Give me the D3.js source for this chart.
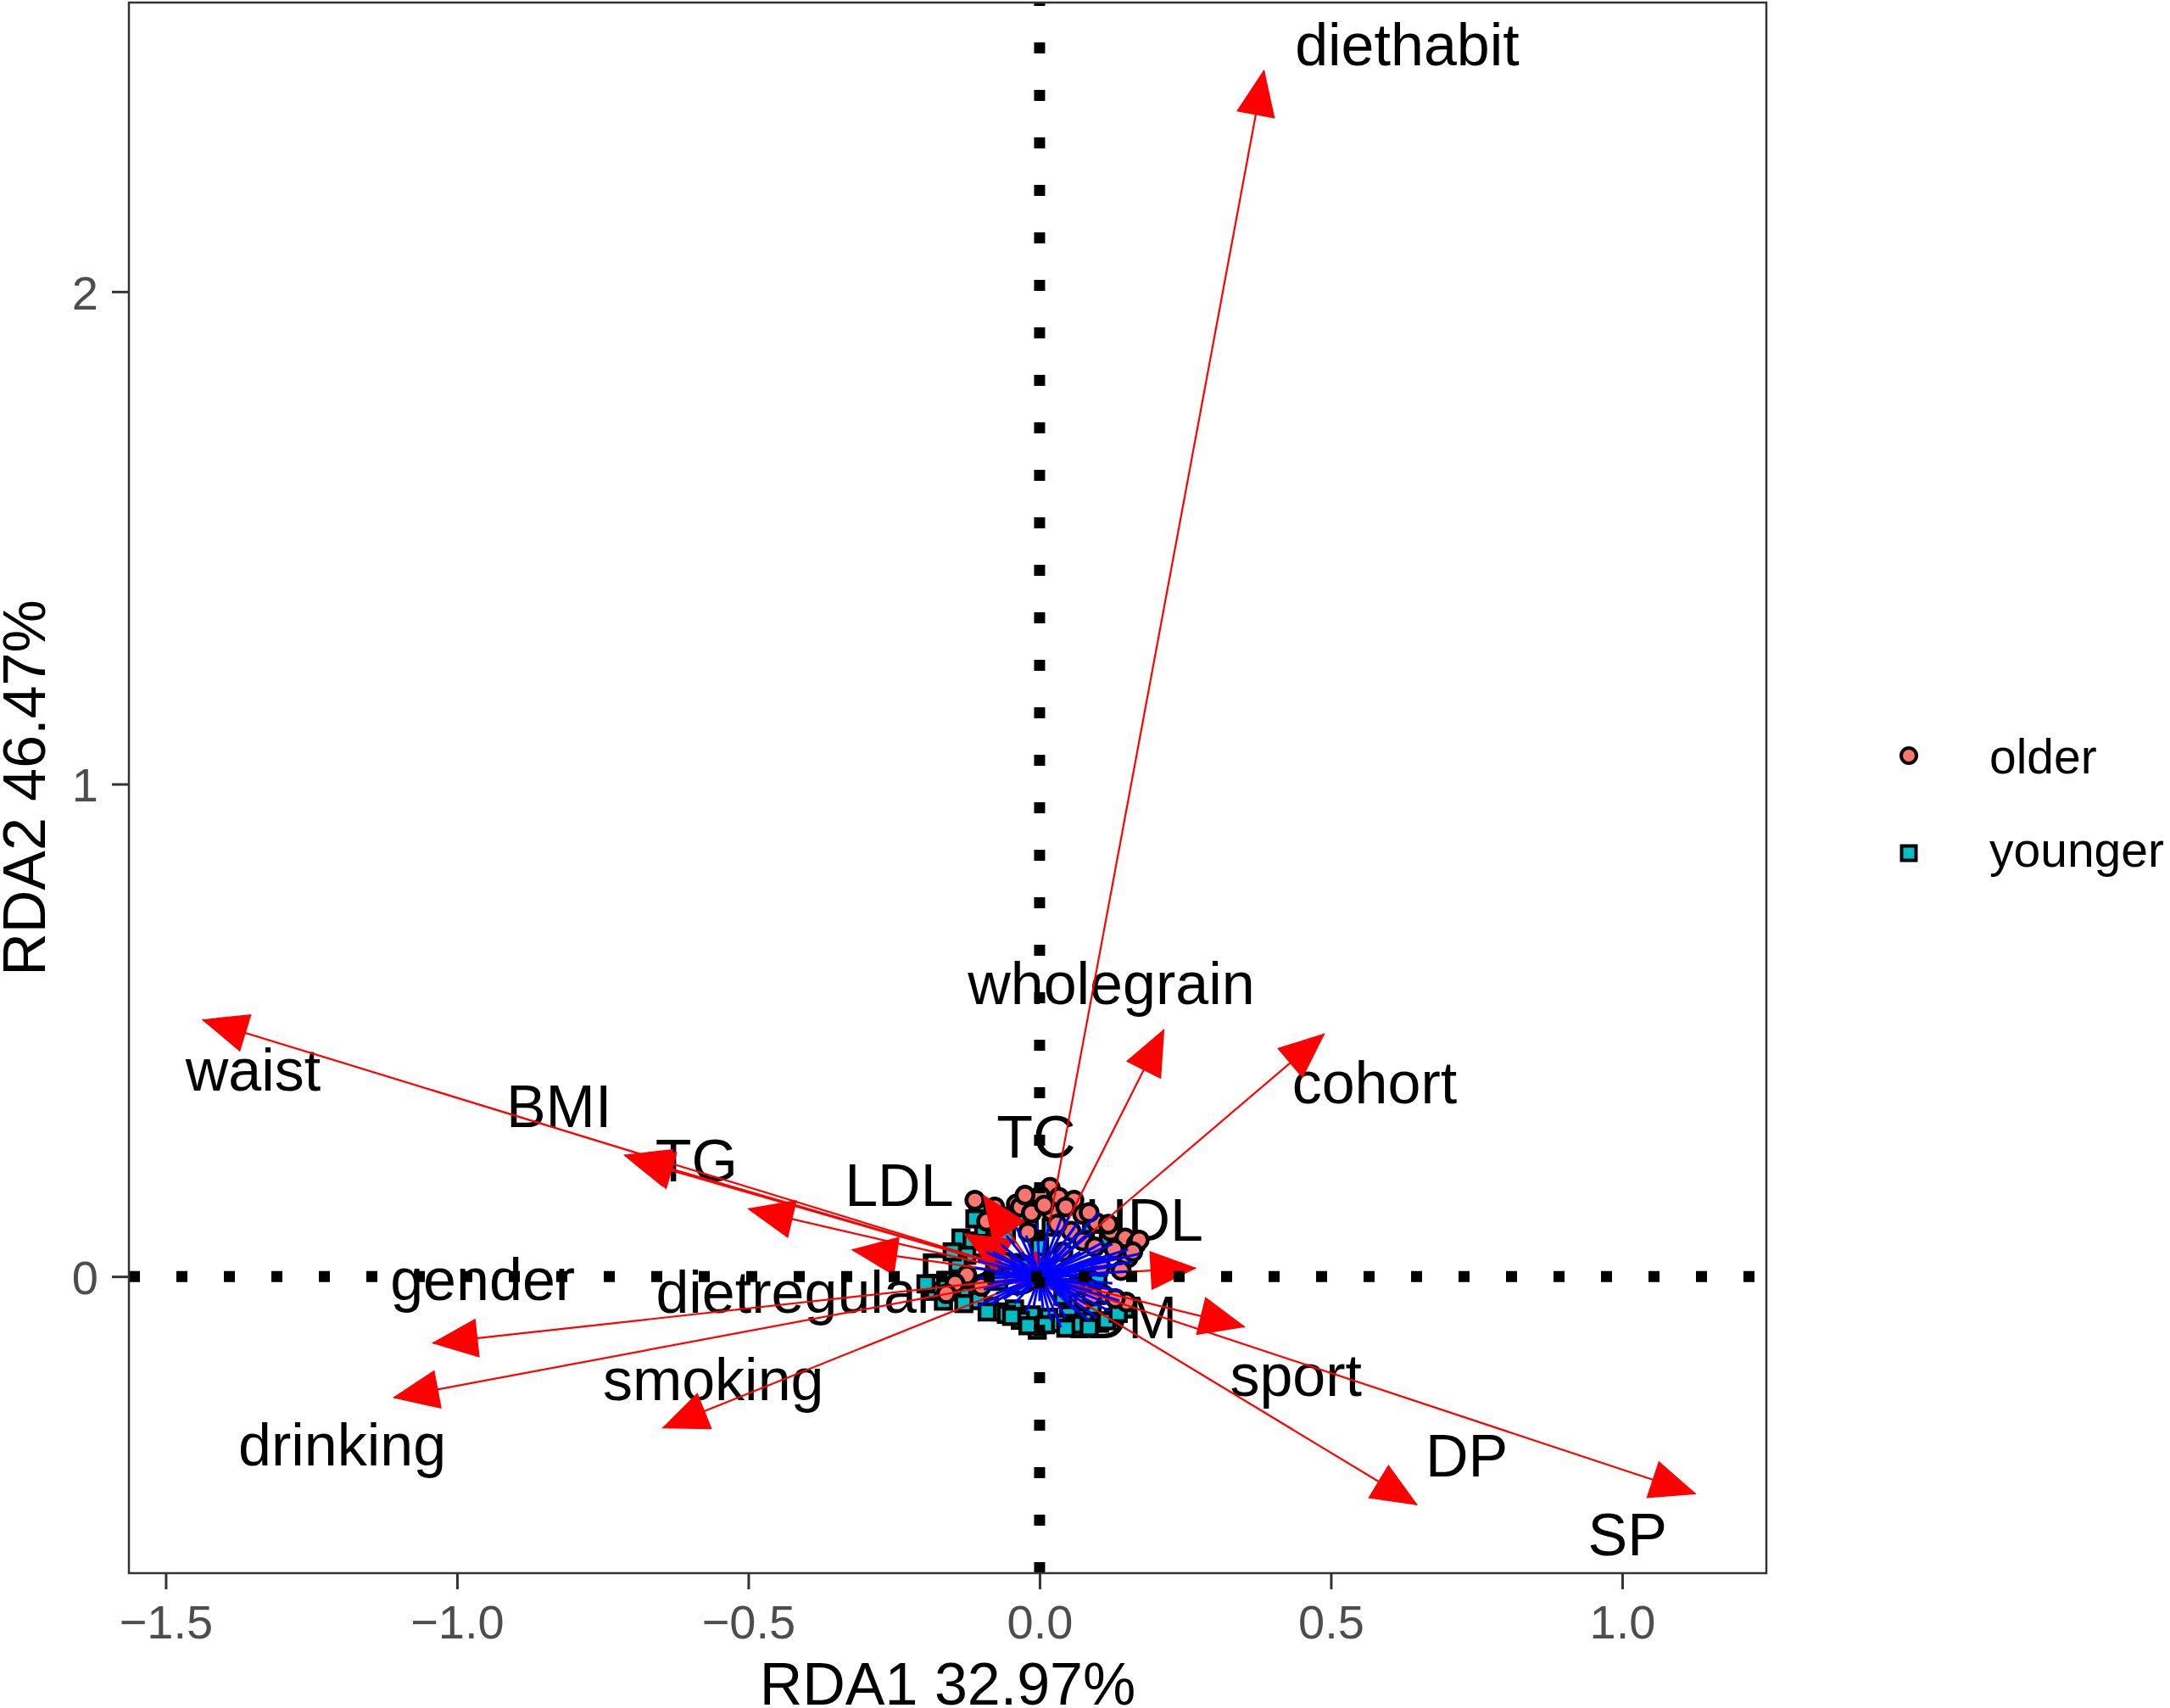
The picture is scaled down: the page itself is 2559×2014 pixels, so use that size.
<!DOCTYPE html>
<html>
<head>
<meta charset="utf-8">
<script src="https://cdn.jsdelivr.net/npm/d3@7/dist/d3.min.js"></script>
<style>
  html, body { margin: 0; padding: 0; background: #fff; }
  svg { display: block; }
  text { font-family: "Liberation Sans", Arial, sans-serif; }
</style>
</head>
<body>
<svg id="chart" width="2559" height="2014"></svg>
<script>
// ---- Data ----
const xTicks = [-1.5, -1.0, -0.5, 0.0, 0.5, 1.0];
const yTicks = [0, 1, 2];
const xTitle = "RDA1 32.97%";
const yTitle = "RDA2 46.47%";
const groups = ["older", "younger"];

// environmental variable arrows (RDA1, RDA2)
const envNames = ["diethabit","wholegrain","cohort","waist","BMI","TG","TC","LDL","HDL","FPG","gender","dietregular","smoking","drinking","DM","sport","DP","SP"];
const envX = [0.385, 0.213, 0.488, -1.436, -0.712, -0.705, -0.096, -0.499, 0.267, -0.128, -1.041, -0.321, -0.646, -1.108, 0.040, 0.351, 0.647, 1.125];
const envY = [2.448, 0.500, 0.492, 0.521, 0.246, 0.240, 0.164, 0.137, 0.017, 0.086, -0.135, 0.054, -0.307, -0.246, -0.030, -0.102, -0.463, -0.441];
// label anchor (centre x, baseline y) in data units
const labX = [0.631, 0.123, 0.575, -1.350, -0.825, -0.589, -0.006, -0.241, 0.179, -0.104, -0.956, -0.418, -0.560, -1.197, 0.157, 0.440, 0.733, 1.009];
const labY = [2.460, 0.553, 0.351, 0.378, 0.303, 0.193, 0.241, 0.144, 0.072, -0.038, -0.048, -0.074, -0.252, -0.384, -0.126, -0.243, -0.406, -0.566];

// site scores: older
const olderX = [-0.111,-0.091,-0.040,-0.009,0.018,0.033,0.059,0.074,0.020,0.098,0.122,0.147,0.166,0.149,0.054,0.074,-0.125,-0.145,0.149,0.110,0.088,-0.033,-0.057,0.001,0.045,0.118,0.030,-0.014,-0.077,0.171,0.152,0.130,0.095,0.040,-0.020,0.010,-0.060,0.060,0.128,0.085,-0.100,-0.160,0.075,0.105,0.008,-0.025,0.140,0.160,0.090];
const olderY = [0.155,0.112,0.147,0.155,0.181,0.161,0.155,0.126,0.132,0.109,0.092,0.078,0.066,0.040,0.092,0.072,0.003,-0.014,-0.052,-0.037,-0.026,0.141,0.121,0.164,0.141,0.106,0.106,0.129,0.141,0.074,0.038,-0.045,0.060,0.050,0.090,0.020,0.030,-0.020,0.055,0.130,-0.020,-0.035,-0.050,0.020,0.145,0.165,0.012,0.050,-0.040];
// site scores: younger
const youngerX = [-0.106,-0.135,-0.116,-0.096,-0.077,-0.057,-0.018,-0.038,-0.086,-0.067,-0.043,-0.014,0.016,0.050,0.079,0.103,0.127,-0.145,-0.125,-0.106,0.089,0.118,-0.086,-0.125,-0.140,0.147,0.060,0.030,-0.033,-0.057,0.069,-0.048,-0.004,0.064,-0.111,-0.130,-0.180,-0.195,-0.165,-0.150,0.000,0.040,-0.030,0.100,0.020,-0.070,0.090,0.045,-0.020,0.010,0.085,0.115,-0.090,-0.160,0.135];
const youngerY = [0.129,0.078,0.072,0.098,0.106,0.086,0.118,0.124,-0.060,-0.072,-0.066,-0.078,-0.083,-0.078,-0.080,-0.095,-0.083,-0.031,-0.037,-0.049,0.106,0.072,0.060,0.043,0.026,-0.066,-0.095,-0.095,-0.089,-0.077,-0.106,-0.081,-0.109,-0.098,0.117,-0.055,-0.030,-0.015,-0.050,0.050,0.060,-0.040,0.020,0.000,0.100,-0.010,-0.060,-0.105,-0.100,-0.098,-0.104,-0.090,-0.072,-0.008,-0.075];

// response (species) vectors, drawn as blue segments from the origin
const spX = [0.037,0.050,0.067,0.101,0.016,-0.004,-0.023,-0.057,-0.067,-0.091,-0.106,-0.111,-0.106,-0.096,-0.106,-0.082,-0.062,-0.043,-0.023,0.006,0.037,0.045,0.064,0.079,0.098,0.118,0.137,0.125,0.118,0.127,0.142,0.171,0.152,0.125,0.105,0.079,0.062,-0.052,-0.077,-0.082,-0.086,0.020,0.090,0.100,0.070,-0.050,-0.030,0.030,0.050,0.000,-0.070,0.140,0.090,-0.040,0.060,0.110,0.080,-0.060,0.010,-0.010,0.030,0.110,-0.080,0.150,0.085,-0.020,0.060,0.020,-0.040,0.120,0.160,0.025,-0.075,0.055,-0.035,0.095,0.012,-0.095,0.130];
const spY = [0.118,0.121,0.112,0.129,0.106,0.109,0.083,0.083,0.066,0.049,0.032,0.017,-0.003,-0.026,-0.060,-0.055,-0.046,-0.055,-0.072,-0.066,-0.103,-0.083,-0.072,-0.055,-0.083,-0.055,-0.049,-0.014,0.003,0.020,0.026,0.046,0.055,0.066,0.043,0.083,0.083,0.043,0.032,0.009,-0.014,-0.090,-0.030,0.020,0.050,-0.030,0.050,0.070,-0.050,-0.050,0.020,-0.030,0.090,0.100,0.100,0.070,0.030,-0.010,0.080,-0.060,-0.060,-0.020,0.050,0.010,-0.090,0.040,0.040,0.050,-0.040,-0.070,0.030,-0.020,-0.035,-0.010,0.015,0.060,0.035,0.005,0.040];

// ---- Layout ----
const panel = { left: 152, right: 2083, top: 3, bottom: 1855 };
const x = d3.scaleLinear().domain([-1.5632, 1.2475]).range([panel.left, panel.right]);
const y = d3.scaleLinear().domain([-0.6025, 2.587]).range([panel.bottom, panel.top]);

const svg = d3.select("#chart");
svg.append("rect").attr("width", 2559).attr("height", 2014).attr("fill", "#fff");

const clipId = "panelClip";
svg.append("clipPath").attr("id", clipId).append("rect")
  .attr("x", panel.left).attr("y", panel.top)
  .attr("width", panel.right - panel.left).attr("height", panel.bottom - panel.top);

const plot = svg.append("g").attr("clip-path", `url(#${clipId})`);

// labels
const env = envNames.map((n, i) => ({ n, x: envX[i], y: envY[i], lx: labX[i], ly: labY[i] }));
plot.append("g").selectAll("text").data(env).join("text")
  .attr("x", d => x(d.lx)).attr("y", d => y(d.ly))
  .attr("text-anchor", "middle")
  .attr("font-size", 70).attr("fill", "#000")
  .text(d => d.n);

// points
const younger = youngerX.map((v, i) => ({ x: v, y: youngerY[i] }));
const older = olderX.map((v, i) => ({ x: v, y: olderY[i] }));
const sq = 18;
plot.append("g").selectAll("rect").data(younger).join("rect")
  .attr("x", d => x(d.x) - sq / 2).attr("y", d => y(d.y) - sq / 2)
  .attr("width", sq).attr("height", sq)
  .attr("fill", "#00BFC4").attr("stroke", "#000").attr("stroke-width", 4.5);
plot.append("g").selectAll("circle").data(older).join("circle")
  .attr("cx", d => x(d.x)).attr("cy", d => y(d.y)).attr("r", 10)
  .attr("fill", "#F8766D").attr("stroke", "#000").attr("stroke-width", 4.5);

// red arrows
const x0 = x(0), y0 = y(0);
const headLen = 52, headHalf = 22;
const ag = plot.append("g");
env.forEach(d => {
  const tx = x(d.x), ty = y(d.y);
  const dx = tx - x0, dy = ty - y0;
  const L = Math.hypot(dx, dy) || 1;
  const ux = dx / L, uy = dy / L;
  const bx = tx - ux * headLen, by = ty - uy * headLen;
  ag.append("line").attr("x1", x0).attr("y1", y0).attr("x2", tx).attr("y2", ty)
    .attr("stroke", "#FF0000").attr("stroke-width", 2.2);
  ag.append("path")
    .attr("d", `M${tx},${ty}L${bx - uy * headHalf},${by + ux * headHalf}L${bx + uy * headHalf},${by - ux * headHalf}Z`)
    .attr("fill", "#FF0000").attr("stroke", "#FF0000").attr("stroke-width", 1.5);
});

// blue segments
const sp = spX.map((v, i) => ({ x: v, y: spY[i] }));
plot.append("g").selectAll("line").data(sp).join("line")
  .attr("x1", x0).attr("y1", y0)
  .attr("x2", d => x(d.x)).attr("y2", d => y(d.y))
  .attr("stroke", "#0000FF").attr("stroke-width", 3);

// dotted reference lines (on top)
plot.append("line").attr("x1", x(0)).attr("x2", x(0))
  .attr("y1", panel.bottom).attr("y2", panel.top)
  .attr("stroke", "#000").attr("stroke-width", 13).attr("stroke-dasharray", "13 43");
plot.append("line").attr("y1", y(0)).attr("y2", y(0))
  .attr("x1", panel.left).attr("x2", panel.right)
  .attr("stroke", "#000").attr("stroke-width", 13).attr("stroke-dasharray", "13 43");

// panel border
svg.append("rect").attr("x", panel.left).attr("y", panel.top)
  .attr("width", panel.right - panel.left).attr("height", panel.bottom - panel.top)
  .attr("fill", "none").attr("stroke", "#333").attr("stroke-width", 2.5);

// axes
const xAxis = d3.axisBottom(x).tickValues(xTicks).tickFormat(d3.format(".1f")).tickSize(19).tickSizeOuter(0);
const gx = svg.append("g").attr("transform", `translate(0,${panel.bottom})`).call(xAxis);
gx.select(".domain").remove();
gx.selectAll(".tick line").attr("stroke", "#333").attr("stroke-width", 3);
gx.selectAll(".tick text").attr("font-size", 56).attr("fill", "#4D4D4D")
  .attr("font-family", "Liberation Sans, Arial, sans-serif").attr("dy", null).attr("y", 77);

const yAxis = d3.axisLeft(y).tickValues(yTicks).tickFormat(d3.format("d")).tickSize(20).tickSizeOuter(0);
const gy = svg.append("g").attr("transform", `translate(${panel.left},0)`).call(yAxis);
gy.select(".domain").remove();
gy.selectAll(".tick line").attr("stroke", "#333").attr("stroke-width", 3);
gy.selectAll(".tick text").attr("font-size", 56).attr("fill", "#4D4D4D")
  .attr("font-family", "Liberation Sans, Arial, sans-serif").attr("x", -36).attr("dy", "0.36em");

// axis titles
svg.append("text").attr("x", (panel.left + panel.right) / 2).attr("y", 2010)
  .attr("text-anchor", "middle").attr("font-size", 70).attr("fill", "#000").text(xTitle);
svg.append("text").attr("transform", `translate(53,${(panel.top + panel.bottom) / 2}) rotate(-90)`)
  .attr("text-anchor", "middle").attr("font-size", 70).attr("fill", "#000").text(yTitle);

// legend
const lg = svg.append("g");
lg.append("circle").attr("cx", 2251).attr("cy", 891).attr("r", 9)
  .attr("fill", "#F8766D").attr("stroke", "#000").attr("stroke-width", 4);
lg.append("rect").attr("x", 2251 - 8.5).attr("y", 1006 - 8.5).attr("width", 17).attr("height", 17)
  .attr("fill", "#00BFC4").attr("stroke", "#000").attr("stroke-width", 4);
lg.append("text").attr("x", 2346).attr("y", 912).attr("font-size", 57).attr("fill", "#000").text(groups[0]);
lg.append("text").attr("x", 2346).attr("y", 1022).attr("font-size", 57).attr("fill", "#000").text(groups[1]);
</script>
</body>
</html>
